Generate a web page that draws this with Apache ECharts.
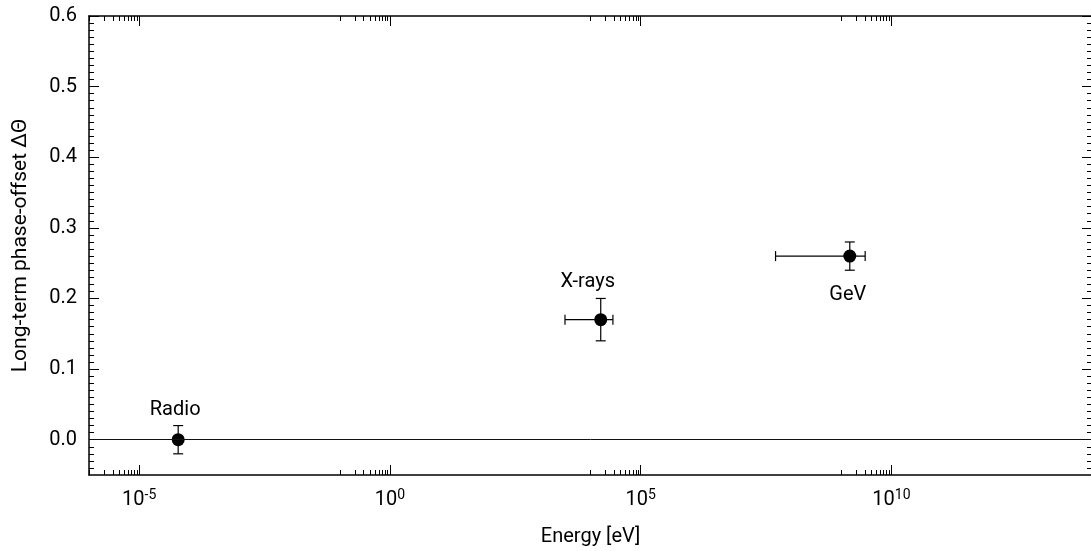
<!DOCTYPE html>
<html>
<head>
<meta charset="utf-8">
<script src="https://cdn.jsdelivr.net/npm/echarts@6/dist/echarts.min.js"></script>
<style>
  html, body { margin: 0; padding: 0; background: #fff; }
  #main { width: 1091px; height: 551px; }
</style>
</head>
<body>
<div id="main"></div>
<script>
// 数据：能量单位 eV，相位偏移 ΔΘ
var sources = ['Radio', 'X-rays', 'GeV'];
var energy = [6.0e-5, 1.6e4, 1.48e9];
var energyLow = [6.0e-5, 3.1e3, 4.9e7];
var energyHigh = [6.0e-5, 2.8e4, 3.0e9];
var offset = [0, 0.17, 0.26];
var offsetLow = [-0.02, 0.14, 0.24];
var offsetHigh = [0.02, 0.20, 0.28];
// 刻度标签
var xLabelExponents = [-5, 0, 5, 10];
var yTickLabels = [0.0, 0.1, 0.2, 0.3, 0.4, 0.5, 0.6];

var FONT = 'Roboto';

// 次刻度：每个标注数量级下面那个十倍程的 1..9
var xMinor = [];
xLabelExponents.forEach(function(n) {
	for (var k = 1; k <= 9; k++) xMinor.push(n - 1 + Math.log10(k));
});
var yMinor = [];
for (var i = -4; i <= 59; i++) {
	if (i % 10 !== 0) yMinor.push(i / 100);
}

var myChart = echarts.init(document.getElementById('main'), null, {renderer: 'canvas'});

var lineBlack = {color: '#000', width: 1.5};

function xAxisCfg(pos, ticks, len, main) {
	return {
		type: 'value', position: pos, min: -6, max: 14,
		axisLine: {show: main, onZero: false, lineStyle: lineBlack},
		axisTick: {show: true, inside: true, length: len, customValues: ticks, lineStyle: {color: '#000', width: 1}},
		axisLabel: {show: false},
		splitLine: {show: false}
	};
}
function yAxisCfg(pos, ticks, len, main) {
	return {
		type: 'value', position: pos, min: -0.05, max: 0.6,
		axisLine: {show: main, onZero: false, lineStyle: lineBlack},
		axisTick: {show: true, inside: true, length: len, customValues: ticks, lineStyle: {color: '#000', width: 1}},
		axisLabel: {show: false},
		splitLine: {show: false}
	};
}

var xMain = xAxisCfg('bottom', xLabelExponents, 10, true);
xMain.axisLabel = {
	show: true, margin: 13, customValues: xLabelExponents,
	formatter: function(v) { return '{b|10}{s|' + v + '}'; },
	rich: {
		b: {fontFamily: FONT, fontSize: 20, color: '#000'},
		s: {fontFamily: FONT, fontSize: 14, color: '#000', padding: [0, 0, 9, 0]}
	}
};
xMain.name = 'Energy [eV]';
xMain.nameLocation = 'middle';
xMain.nameGap = 52;
xMain.nameTextStyle = {fontFamily: FONT, fontSize: 20, color: '#000'};

var yMain = yAxisCfg('left', yTickLabels, 10, true);
yMain.axisLabel = {
	show: true, margin: 12, customValues: yTickLabels,
	formatter: function(v) { return v.toFixed(1); },
	fontFamily: FONT, fontSize: 20, color: '#000'
};
yMain.name = 'Long-term phase-offset ΔΘ';
yMain.nameLocation = 'middle';
yMain.nameGap = 58;
yMain.nameTextStyle = {fontFamily: FONT, fontSize: 21, color: '#000'};

var barData = sources.map(function(s, i) {
	return [Math.log10(energy[i]), offset[i], Math.log10(energyLow[i]), Math.log10(energyHigh[i]), offsetLow[i], offsetHigh[i]];
});
var labelOffsets = [[-3, -30], [-13, -38], [-2, 39]];
var pointData = sources.map(function(s, i) {
	return {
		name: s,
		value: [Math.log10(energy[i]), offset[i]],
		label: {offset: labelOffsets[i]}
	};
});

function renderErrorBars(params, api) {
	var x = api.value(0), y = api.value(1);
	var xl = api.value(2), xh = api.value(3), yl = api.value(4), yh = api.value(5);
	var children = [];
	var style = {stroke: '#000', lineWidth: 1.2};
	var cap = 5;
	if (xl !== xh) {
		var a = api.coord([xl, y]), b = api.coord([xh, y]);
		children.push({type: 'line', shape: {x1: a[0], y1: a[1], x2: b[0], y2: b[1]}, style: style});
		children.push({type: 'line', shape: {x1: a[0], y1: a[1] - cap, x2: a[0], y2: a[1] + cap}, style: style});
		children.push({type: 'line', shape: {x1: b[0], y1: b[1] - cap, x2: b[0], y2: b[1] + cap}, style: style});
	}
	if (yl !== yh) {
		var c = api.coord([x, yl]), d = api.coord([x, yh]);
		children.push({type: 'line', shape: {x1: c[0], y1: c[1], x2: d[0], y2: d[1]}, style: style});
		children.push({type: 'line', shape: {x1: c[0] - cap, y1: c[1], x2: c[0] + cap, y2: c[1]}, style: style});
		children.push({type: 'line', shape: {x1: d[0] - cap, y1: d[1], x2: d[0] + cap, y2: d[1]}, style: style});
	}
	return {type: 'group', children: children};
}

var option = {
	animation: false,
	backgroundColor: '#fff',
	grid: {left: 89, width: 1003, top: 16, bottom: 76, containLabel: false, outerBoundsMode: 'none'},
	xAxis: [
		xMain,
		xAxisCfg('top', xLabelExponents, 10, true),
		xAxisCfg('bottom', xMinor, 5, false),
		xAxisCfg('top', xMinor, 5, false)
	],
	yAxis: [
		yMain,
		yAxisCfg('right', yTickLabels, 10, true),
		yAxisCfg('left', yMinor, 5, false),
		yAxisCfg('right', yMinor, 5, false)
	],
	series: [
		{
			type: 'custom',
			renderItem: renderErrorBars,
			data: barData,
			z: 2,
			silent: true,
			markLine: {
				silent: true, symbol: 'none',
				label: {show: false},
				lineStyle: {color: '#111', width: 1, type: 'solid', opacity: 1},
				data: [{yAxis: 0}]
			}
		},
		{
			type: 'scatter',
			data: pointData,
			symbol: 'circle',
			symbolSize: 13,
			itemStyle: {color: '#000', opacity: 1},
			z: 3,
			label: {
				show: true, position: 'inside',
				formatter: '{b}',
				fontFamily: FONT, fontSize: 20, color: '#000'
			}
		}
	]
};
myChart.setOption(option);
window.onresize = myChart.resize;
</script>
</body>
</html>
